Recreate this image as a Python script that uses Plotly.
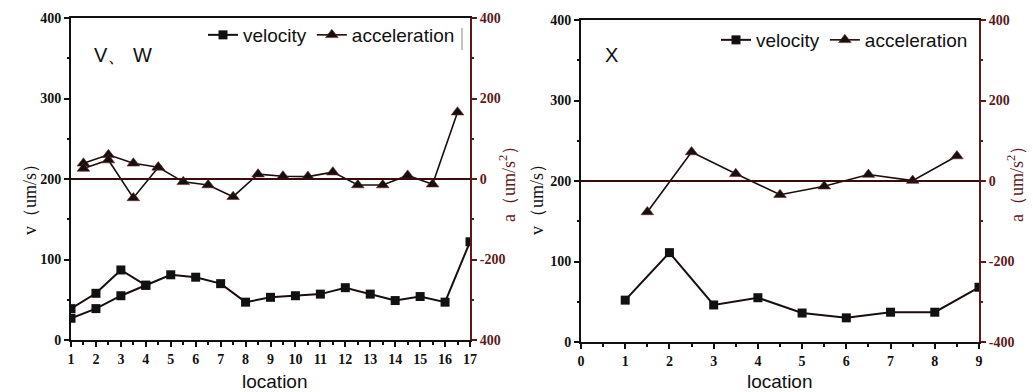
import plotly.graph_objects as go

# ---------------- data ----------------
# Left panel (V, W)
vw_loc = list(range(1, 18))
vw_vel_a = [39, 58, 87, 68, 81, 78, 70, 47, 53, 55, 57, 65, 57, 49, 54, 47, 122]
vw_loc_b = [1, 2, 3, 4]
vw_vel_b = [27, 39, 55, 68]
vw_acc_loc = [1.5, 2.5, 3.5, 4.5, 5.5, 6.5, 7.5, 8.5, 9.5, 10.5, 11.5, 12.5, 13.5, 14.5, 15.5, 16.5]
vw_acc_a = [39, 60, 39, 29, -7, -15, -44, 12, 7, 6, 17, -15, -15, 9, -13, 166]
vw_acc_loc_b = [1.5, 2.5, 3.5, 4.5]
vw_acc_b = [26, 47, -47, 29]

# Right panel (X)
x_loc = [1, 2, 3, 4, 5, 6, 7, 8, 9]
x_vel = [52, 111, 46, 55, 36, 30, 37, 37, 68]
x_acc_loc = [1.5, 2.5, 3.5, 4.5, 5.5, 6.5, 7.5, 8.5]
x_acc = [-77, 72, 18, -34, -13, 16, 1, 62]

v_ticks = [0, 100, 200, 300, 400]
a_ticks = [-400, -200, 0, 200, 400]
a_ticktext_left = ["400", "-200", "0", "200", "400"]
a_ticktext_right = ["-400", "-200", "0", "200", "400"]

# ---------------- style ----------------
W, H = 1033, 392
BLACK = "#111111"
DRED = "#5c1a1a"
LINE = "#1a0d0d"
SERIF = "Liberation Serif"
SANS = "Liberation Sans"

def px_x(p):
    return p / W

def px_y(p):
    return 1 - p / H

fig = go.Figure()

sq = dict(symbol="square", size=9, color=BLACK)
tri = dict(symbol="triangle-up", size=11, color=BLACK, line=dict(color="#7a2020", width=0.6))

# left panel traces
fig.add_trace(go.Scatter(x=vw_loc, y=vw_vel_a, mode="lines+markers", name="velocity",
                         line=dict(color=LINE, width=2), marker=sq,
                         xaxis="x", yaxis="y", legend="legend"))
fig.add_trace(go.Scatter(x=vw_loc_b, y=vw_vel_b, mode="lines+markers", name="velocity",
                         line=dict(color=LINE, width=2), marker=sq, showlegend=False,
                         xaxis="x", yaxis="y", legend="legend"))
fig.add_trace(go.Scatter(x=vw_acc_loc, y=vw_acc_a, mode="lines+markers", name="acceleration",
                         line=dict(color=LINE, width=1.6), marker=tri,
                         xaxis="x", yaxis="y2", legend="legend"))
fig.add_trace(go.Scatter(x=vw_acc_loc_b, y=vw_acc_b, mode="lines+markers", name="acceleration",
                         line=dict(color=LINE, width=1.6), marker=tri, showlegend=False,
                         xaxis="x", yaxis="y2", legend="legend"))

# right panel traces
fig.add_trace(go.Scatter(x=x_loc, y=x_vel, mode="lines+markers", name="velocity",
                         line=dict(color=LINE, width=2), marker=sq,
                         xaxis="x2", yaxis="y3", legend="legend2"))
fig.add_trace(go.Scatter(x=x_acc_loc, y=x_acc, mode="lines+markers", name="acceleration",
                         line=dict(color=LINE, width=1.6), marker=tri,
                         xaxis="x2", yaxis="y4", legend="legend2"))

tickfont = dict(family=SERIF, size=14, color=BLACK, weight="bold")
tickfont_r = dict(family=SERIF, size=14, color=DRED, weight="bold")

dom_l = [px_x(71), px_x(470)]
dom_r = [px_x(581), px_x(979)]
dom_y_l = [px_y(340), px_y(18)]
dom_y_r = [px_y(342), px_y(20)]

def xax(domain, rng, anchor):
    return dict(domain=domain, range=rng, dtick=1, tick0=0, anchor=anchor, automargin=False,
                showline=True, linecolor=BLACK, linewidth=2, mirror=True,
                ticks="outside", ticklen=5, tickwidth=2, tickcolor=BLACK,
                minor=dict(dtick=0.5, ticks="outside", ticklen=3, tickwidth=2, tickcolor=BLACK),
                showgrid=False, zeroline=False, tickfont=tickfont)

def yax(domain, anchor):
    return dict(domain=domain, range=[0, 400], tickvals=v_ticks, anchor=anchor, automargin=False,
                showline=True, linecolor=BLACK, linewidth=2,
                ticks="outside", ticklen=5, tickwidth=2, tickcolor=BLACK,
                minor=dict(dtick=50, ticks="outside", ticklen=2, tickwidth=2, tickcolor=BLACK),
                showgrid=False, zeroline=False, tickfont=tickfont)

def y2ax(domain, overlay, anchor, ticktext):
    return dict(domain=domain, range=[-400, 400], tickvals=a_ticks, ticktext=ticktext,
                overlaying=overlay, side="right", anchor=anchor, automargin=False,
                showline=True, linecolor=DRED, linewidth=2,
                ticks="outside", ticklen=5, tickwidth=2, tickcolor=DRED,
                minor=dict(dtick=100, ticks="outside", ticklen=2, tickwidth=2, tickcolor=DRED),
                showgrid=False, zeroline=False, tickfont=tickfont_r)

fig.update_layout(
    width=W, height=H,
    margin=dict(l=0, r=0, t=0, b=0, autoexpand=False),
    paper_bgcolor="white", plot_bgcolor="white",
    xaxis=xax(dom_l, [1, 17], "y"),
    yaxis=yax(dom_y_l, "x"),
    yaxis2=y2ax(dom_y_l, "y", "x", a_ticktext_left),
    xaxis2=xax(dom_r, [0, 9], "y3"),
    yaxis3=yax(dom_y_r, "x2"),
    yaxis4=y2ax(dom_y_r, "y3", "x2", a_ticktext_right),
    legend=dict(orientation="h", x=px_x(460), xanchor="right", y=px_y(35), yanchor="middle",
                font=dict(family=SANS, size=19, color="#111"), bgcolor="rgba(0,0,0,0)",
                itemwidth=30, tracegroupgap=0, traceorder="normal"),
    legend2=dict(orientation="h", x=px_x(973), xanchor="right", y=px_y(40), yanchor="middle",
                 font=dict(family=SANS, size=19, color="#111"), bgcolor="rgba(0,0,0,0)",
                 itemwidth=30, tracegroupgap=0, traceorder="normal"),
    showlegend=True,
)

# zero reference lines on acceleration axes
fig.add_shape(type="line", xref="x domain", yref="y2", x0=0, x1=1, y0=0, y1=0,
              line=dict(color="#3a0c0c", width=2.2))
fig.add_shape(type="line", xref="x2 domain", yref="y4", x0=0, x1=1, y0=0, y1=0,
              line=dict(color="#3a0c0c", width=2.2))
# thin bar after legend in left panel
fig.add_shape(type="line", xref="paper", yref="paper", x0=px_x(462), x1=px_x(462),
              y0=px_y(28), y1=px_y(50), line=dict(color="#888", width=1))

def ann(text, x, y, size, family, color="#111", angle=0, anchor="center"):
    fig.add_annotation(text=text, xref="paper", yref="paper", x=px_x(x), y=px_y(y),
                       xanchor=anchor, yanchor="middle", showarrow=False, textangle=angle,
                       font=dict(family=family, size=size, color=color))

# panel labels
ann("V、 W", 92, 55, 20, SANS, anchor="left")
ann("X", 603, 55, 20, SANS, anchor="left")
# axis titles
ann("location", 275, 381, 19, SANS)
ann("location", 780, 381, 19, SANS)
ann("v（um/s）", 30, 195, 18, SERIF, angle=-90)
ann("v（um/s）", 537, 195, 18, SERIF, angle=-90)
ann("a（um/s<sup>2</sup>）", 508, 180, 18, SERIF, color=DRED, angle=-90)
ann("a（um/s<sup>2</sup>）", 1016, 180, 18, SERIF, color=DRED, angle=-90)

fig.write_html("out.html")
